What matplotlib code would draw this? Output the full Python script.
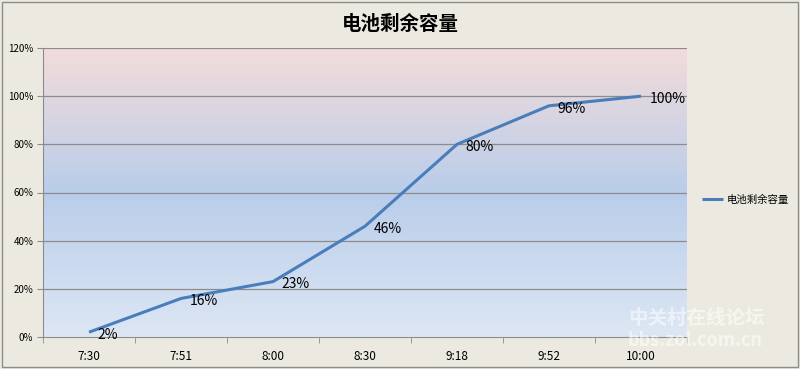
import numpy as np
import matplotlib.pyplot as plt
from matplotlib.colors import LinearSegmentedColormap
from matplotlib.ticker import FuncFormatter, FixedLocator

plt.rcParams['font.family'] = ['Noto Sans CJK SC', 'DejaVu Sans']

# data
times = ['7:30', '7:51', '8:00', '8:30', '9:18', '9:52', '10:00']
battery = [2, 16, 23, 46, 80, 96, 100]
title = '电池剩余容量'

fig = plt.figure(figsize=(8, 3.69), dpi=100, facecolor='#ECEAE0')
ax = fig.add_axes([43 / 800, 1 - 337 / 369, 644 / 800, 289 / 369])

x = np.arange(len(times))
ax.set_xlim(-0.5, len(times) - 0.5)
ax.set_ylim(0, 120)

# gradient background (pink top -> blue middle -> light blue bottom)
grad = LinearSegmentedColormap.from_list(
    'bg', [(0, '#DDE7F4'), (0.5, '#B9CDEA'), (1, '#F2DCDB')])
ax.imshow(np.linspace(0, 1, 256).reshape(-1, 1), cmap=grad, aspect='auto',
          extent=[-0.5, len(times) - 0.5, 0, 120], origin='lower', zorder=0)

for yv in range(20, 121, 20):
    ax.axhline(yv, color='#8C8C8C', lw=0.9, zorder=1)

ax.plot(x, battery, color='#4A7EBB', lw=2.2, zorder=3, label=title,
        solid_capstyle='butt')
for xi, yi in zip(x, battery):
    ax.annotate(f'{yi}%', (xi, yi), xytext=(6, -2), textcoords='offset points',
                fontsize=10, color='#000000', va='center', ha='left', zorder=4)

ax.yaxis.set_major_locator(FixedLocator(range(0, 121, 20)))
ax.yaxis.set_major_formatter(FuncFormatter(lambda v, p: f'{int(v)}%'))
ax.set_xticks(x)
ax.set_xticklabels(times)
ax.set_xticks(np.arange(-0.5, len(times), 1), minor=True)
ax.tick_params(axis='x', which='major', length=0, pad=9, labelsize=8.5)
ax.tick_params(axis='x', which='minor', length=4, color='#8C8C8C')
ax.tick_params(axis='y', length=4, color='#8C8C8C', labelsize=7, pad=3)

for side in ['top', 'right']:
    ax.spines[side].set_visible(False)
for side in ['left', 'bottom']:
    ax.spines[side].set_color('#8C8C8C')

fig.text(0.5, 1 - 24 / 369, title, ha='center', va='center',
         fontsize=14, fontweight='bold')

leg = fig.legend(loc='center left', bbox_to_anchor=(693 / 800, 1 - 200 / 369),
                 frameon=False, fontsize=7.5, handlelength=2.0,
                 handletextpad=0.3)

# watermark
fig.text(628 / 800, 1 - 318 / 369, '中关村在线论坛', color='white', alpha=0.55,
         fontsize=14, fontweight='bold', ha='left', va='center')
fig.text(628 / 800, 1 - 340 / 369, 'bbs.zol.com.cn', color='white', alpha=0.55,
         fontsize=13, fontweight='bold', ha='left', va='center')

# outer border
fig.patches.append(plt.Rectangle((0.003, 0.005), 0.994, 0.99,
                                 transform=fig.transFigure, fill=False,
                                 edgecolor='#8C8C8C', lw=1))

fig.savefig('out.png', dpi=100, facecolor=fig.get_facecolor())
